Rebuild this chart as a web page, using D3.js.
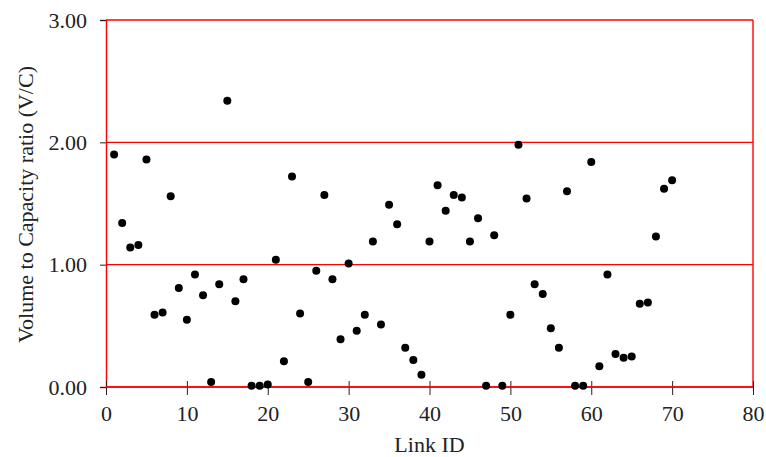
<!DOCTYPE html>
<html>
<head>
<meta charset="utf-8">
<script src="https://cdn.jsdelivr.net/npm/d3@7"></script>
<style>
  body { margin: 0; background: #fff; }
  text { font-family: "Liberation Serif", "Times New Roman", serif; }
</style>
</head>
<body>
<svg></svg>
<script>
const width = 766;
const height = 457;

// Link IDs and their V/C ratios
const linkIds = [
  1, 2, 3, 4, 5, 6, 7, 8, 9, 10,
  11, 12, 13, 14, 15, 16, 17, 18, 19, 20,
  21, 22, 23, 24, 25, 26, 27, 28, 29, 30,
  31, 32, 33, 34, 35, 36, 37, 38, 39, 40,
  41, 42, 43, 44, 45, 46, 47, 48, 49, 50,
  51, 52, 53, 54, 55, 56, 57, 58, 59, 60,
  61, 62, 63, 64, 65, 66, 67, 68, 69, 70
];
const vcRatio = [
  1.90, 1.34, 1.14, 1.16, 1.86, 0.59, 0.61, 1.56, 0.81, 0.55,
  0.92, 0.75, 0.04, 0.84, 2.34, 0.70, 0.88, 0.01, 0.01, 0.02,
  1.04, 0.21, 1.72, 0.60, 0.04, 0.95, 1.57, 0.88, 0.39, 1.01,
  0.46, 0.59, 1.19, 0.51, 1.49, 1.33, 0.32, 0.22, 0.10, 1.19,
  1.65, 1.44, 1.57, 1.55, 1.19, 1.38, 0.01, 1.24, 0.01, 0.59,
  1.98, 1.54, 0.84, 0.76, 0.48, 0.32, 1.60, 0.01, 0.01, 1.84,
  0.17, 0.92, 0.27, 0.24, 0.25, 0.68, 0.69, 1.23, 1.62, 1.69
];
const xTicks = [0, 10, 20, 30, 40, 50, 60, 70, 80];
const yTicks = [0, 1, 2, 3];

const plotLeft = 106, plotRight = 753, plotTop = 20, plotBottom = 387;

const svg = d3.select('svg')
  .attr('width', width)
  .attr('height', height);

const x = d3.scaleLinear().domain([0, 80]).range([plotLeft, plotRight]);
const y = d3.scaleLinear().domain([0, 3]).range([plotBottom, plotTop]);

// red gridlines
svg.append("g")
  .selectAll("line")
  .data(yTicks)
  .enter()
  .append("line")
  .attr("x1", plotLeft)
  .attr("x2", plotRight)
  .attr("y1", d => y(d))
  .attr("y2", d => y(d))
  .attr("stroke", "#ff0000")
  .attr("stroke-width", 1.4);

// frame right side
svg.append("line")
  .attr("x1", plotRight).attr("x2", plotRight)
  .attr("y1", plotTop).attr("y2", plotBottom)
  .attr("stroke", "#ff0000")
  .attr("stroke-width", 1.4);

// y axis
const yAxis = svg.append("g")
  .attr("transform", `translate(${plotLeft},0)`)
  .call(d3.axisLeft(y).tickValues(yTicks).tickFormat(d3.format(".2f")).tickSize(6).tickPadding(13));
yAxis.select(".domain").attr("stroke", "#ff0000").attr("stroke-width", 1.4);
yAxis.selectAll(".tick line").attr("stroke", "#222");
yAxis.selectAll("text")
  .attr("fill", "#222")
  .style("font-size", "22px");

// x axis
const xAxis = svg.append("g")
  .attr("transform", `translate(0,${plotBottom})`)
  .call(d3.axisBottom(x).tickValues(xTicks).tickSize(8).tickPadding(10));
xAxis.select(".domain").remove();
xAxis.selectAll(".tick line")
  .attr("y1", -6)
  .attr("stroke", "#222");
xAxis.selectAll("text")
  .attr("fill", "#222")
  .style("font-size", "22px");
svg.append("line")
  .attr("x1", plotLeft).attr("x2", plotRight)
  .attr("y1", plotBottom).attr("y2", plotBottom)
  .attr("stroke", "#ff0000")
  .attr("stroke-width", 1.4);

// axis titles
svg.append("text")
  .attr("x", x(40))
  .attr("y", 452)
  .attr("text-anchor", "middle")
  .attr("fill", "#222")
  .style("font-size", "22px")
  .text("Link ID");

svg.append("text")
  .attr("transform", `translate(33,${(plotTop + plotBottom) / 2 + 1}) rotate(-90)`)
  .attr("text-anchor", "middle")
  .attr("fill", "#222")
  .style("font-size", "22px")
  .text("Volume to Capacity ratio (V/C)");

// points
svg.append("g")
  .selectAll("circle")
  .data(linkIds)
  .enter()
  .append("circle")
  .attr("cx", (d, i) => x(d))
  .attr("cy", (d, i) => y(vcRatio[i]))
  .attr("r", 4)
  .attr("fill", "#000");
</script>
</body>
</html>
